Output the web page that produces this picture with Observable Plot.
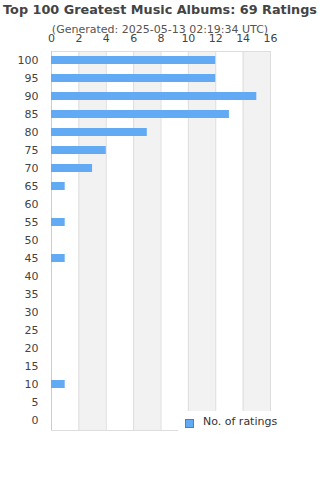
<!DOCTYPE html>
<html>
<head>
<meta charset="utf-8">
<script src="https://cdn.jsdelivr.net/npm/d3@7"></script>
<script src="https://cdn.jsdelivr.net/npm/@observablehq/plot@0.6"></script>
<style>
  html, body { margin: 0; padding: 0; background: #fff; }
  #wrap { position: relative; width: 320px; height: 480px; font-family: "DejaVu Sans", sans-serif; }
  #title { position: absolute; left: 0; width: 320px; top: 2px; text-align: center; font-weight: bold; font-size: 12.8px; color: #444; white-space: nowrap; }
  #subtitle { position: absolute; left: 0; width: 320px; top: 23px; text-align: center; font-size: 11px; color: #555; white-space: nowrap; }
  #legend { position: absolute; left: 178px; top: 411px; width: 142px; height: 30px; background: #fff; font-size: 11px; color: #333; }
  #legend .sw { position: absolute; left: 7px; top: 8px; width: 7px; height: 7px; border: 1px solid #777; }
  #legend .lb { position: absolute; left: 25px; top: 4px; white-space: nowrap; }
  svg { position: absolute; left: 0; top: 0; }
</style>
</head>
<body>
<div id="wrap">
  <div id="chart"></div>
  <div id="title">Top 100 Greatest Music Albums: 69 Ratings</div>
  <div id="subtitle">(Generated: 2025-05-13 02:19:34 UTC)</div>
  <div id="legend"><div class="sw"></div><div class="lb">No. of ratings</div></div>
</div>
<script>
const categories = ["100","95","90","85","80","75","70","65","60","55","50","45","40","35","30","25","20","15","10","5","0"];
const ratings    = [12, 12, 15, 13, 7, 4, 3, 1, 0, 1, 0, 1, 0, 0, 0, 0, 0, 0, 1, 0, 0];
const xTicks = [0, 2, 4, 6, 8, 10, 12, 14, 16];
const seriesName = "No. of ratings";
const barColor = "#62aaf4";

const data = categories.map((c, i) => ({score: c, count: ratings[i]}));
const bands = [];
for (let i = 1; i < xTicks.length; i += 2) bands.push({x1: xTicks[i], x2: xTicks[i + 1]});

document.querySelector("#legend .sw").style.background = barColor;
document.querySelector("#legend .lb").textContent = seriesName;

const chart = Plot.plot({
  width: 320,
  height: 480,
  marginTop: 51,
  marginLeft: 51,
  marginRight: 50,
  marginBottom: 50,
  style: {fontFamily: "DejaVu Sans, sans-serif", fontSize: "11px", color: "#444", background: "transparent"},
  x: {domain: [0, 16], axis: "top", ticks: xTicks, tickSize: 0, tickPadding: 10, label: null},
  y: {domain: categories, paddingInner: 0.55, paddingOuter: 0.275, tickSize: 0, tickPadding: 13, label: null},
  marks: [
    Plot.rect(bands, {x1: "x1", x2: "x2", fill: "#f2f2f2"}),
    Plot.ruleX(xTicks.slice(1), {stroke: "#dddddd", strokeWidth: 1}),
    Plot.frame({stroke: "#dddddd"}),
    Plot.ruleX([0], {stroke: "#cccccc"}),
    Plot.barX(data, {x: "count", y: "score", fill: barColor})
  ]
});
document.getElementById("chart").appendChild(chart);
</script>
</body>
</html>
